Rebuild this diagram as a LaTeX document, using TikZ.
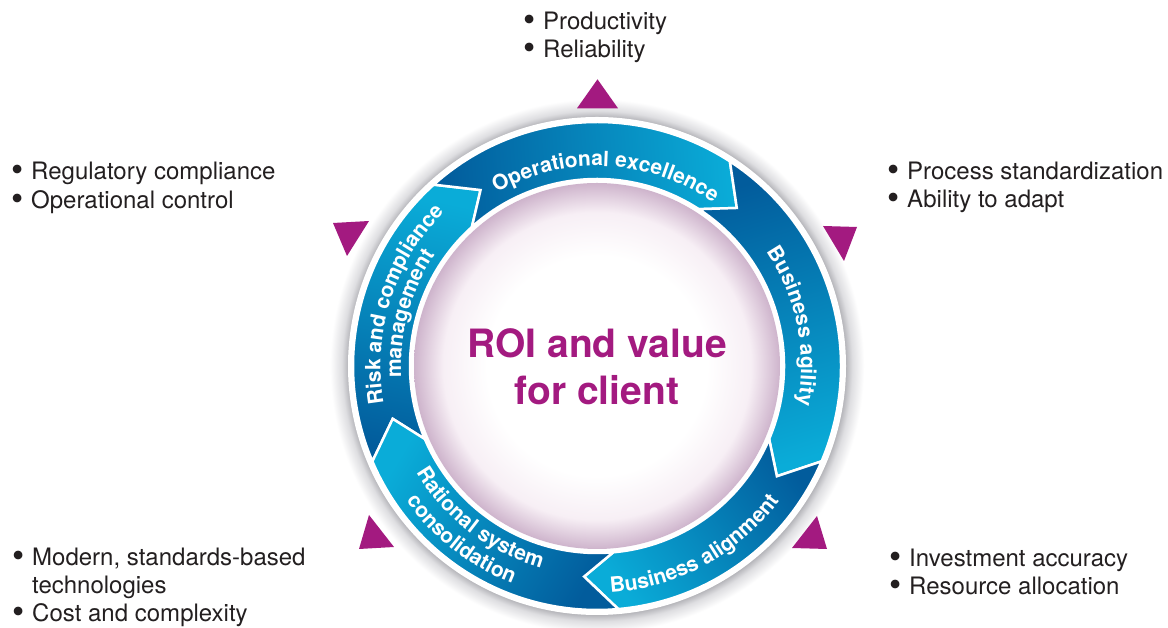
\documentclass[tikz,border=0pt]{standalone}
\usepackage{fontspec}
\usepackage{graphicx}
\setmainfont{TeX Gyre Heros}
\usetikzlibrary{decorations.text}
\definecolor{darkc}{RGB}{2,92,156}
\definecolor{lightc}{RGB}{10,172,216}
\definecolor{mag}{RGB}{163,26,128}
\definecolor{txt}{RGB}{35,31,32}
\definecolor{pinkA}{RGB}{247,239,245}
\definecolor{pinkB}{RGB}{206,180,204}
\definecolor{shadc}{RGB}{175,175,180}
\definecolor{shadm}{RGB}{222,222,225}
\pgfdeclareradialshading{innerglow}{\pgfpoint{0bp}{0bp}}{color(0bp)=(white); color(15bp)=(white); color(21bp)=(pinkA); color(25bp)=(pinkB); color(50bp)=(pinkB)}
\pgfdeclareradialshading{ringshadow}{\pgfpoint{0bp}{0bp}}{color(0bp)=(shadc); color(23.2bp)=(shadc); color(23.9bp)=(shadm); color(25bp)=(white); color(50bp)=(white)}
\newcommand\bitem{\llap{\raisebox{-2pt}{\scalebox{1.45}{\textbullet}}\hspace{7.5pt}}}
\newcommand\lblf{\fontsize{21}{21}\selectfont\bfseries}
\newcommand\Ro{244}
\newcommand\Ri{187}
\newcommand\Rt{211}
\newcommand\dl{8.5}
\newcommand\ringseg[2]{%
  \pgfmathsetmacro\shadang{(#1+#2)/2-180}%
  \path[top color=lightc, bottom color=darkc, shading angle=\shadang, draw=white, line width=2.5pt, line join=miter]
    (#1:\Ro) arc[start angle=#1, end angle=#2, radius=\Ro] -- (#2-\dl:\Rt) -- (#2:\Ri)
    arc[start angle=#2, end angle=#1, radius=\Ri] -- (#1-\dl:\Rt) -- cycle;}
\newcommand\cwlabel[3]{%
  \path[decorate, decoration={text along path, text align=center, text color=white, text={|\lblf|#3}}]
    (#1+45:#2) arc[start angle=#1+45, end angle=#1-45, radius=#2];}
\newcommand\ccwlabel[3]{%
  \path[decorate, decoration={text along path, text align=center, text color=white, text={|\lblf|#3}}]
    (#1-45:#2) arc[start angle=#1-45, end angle=#1+45, radius=#2];}
\tikzset{
  bl/.style={anchor=base west, inner sep=0pt, font=\fontsize{24}{28}\selectfont, text=txt},
  ctr/.style={anchor=base, inner sep=0pt, font=\fontsize{39}{46}\selectfont\bfseries, text=mag},
  tri/.style={fill=mag}
}
\begin{document}
\begin{tikzpicture}[x=1pt,y=1pt]
\useasboundingbox[fill=white] (0,0) rectangle (1168,628);
\begin{scope}[shift={(597,262)}]
  \shade[shading=ringshadow] (0,0) circle (267);
  \fill[white] (0,0) circle (249);
  \ringseg{203}{132}
  \ringseg{132}{57}
  \ringseg{57}{-23}
  \ringseg{-23}{-85}
  \ringseg{-85}{-157}
  \fill[white] (0,0) circle (186);
  \shade[shading=innerglow] (0,0) circle (183);
  \cwlabel{87.3}{200}{Operational excellence}
  \cwlabel{11.5}{204}{Business agility}
  \ccwlabel{-61.5}{227}{Business alignment}
  \ccwlabel{-127.5}{209.5}{Rational system}
  \ccwlabel{-128}{233.5}{consolidation}
  \cwlabel{162.3}{216.5}{Risk and compliance}
  \cwlabel{164.5}{196}{management}
\end{scope}
\node[ctr] (c1) at (597,270) {ROI and value};
\node[ctr] (c2) at (597,223) {for client};
% triangles
\fill[tri] (597.5,548.7) -- (577,519.7) -- (618,519.7) -- cycle;
\fill[tri] (333,405) -- (369,407) -- (347,372) -- cycle;
\fill[tri] (823,402) -- (857,401) -- (844,367) -- cycle;
\fill[tri] (817,112) -- (792,80) -- (827,79) -- cycle;
\fill[tri] (369,113) -- (359,79) -- (394,81) -- cycle;
% bullet texts
\node[bl] (t1) at (543,598) {\bitem Productivity};
\node[bl] (t2) at (543,570) {\bitem Reliability};
\node[bl] (l1) at (31,448) {\bitem Regulatory compliance};
\node[bl] (l2) at (31,419.5) {\bitem Operational control};
\node[bl] (r1) at (907,448) {\bitem Process standardization};
\node[bl] (r2) at (907,420) {\bitem Ability to adapt};
\node[bl] (bl1) at (32,62) {\bitem Modern, standards-based};
\node[bl] (bl2) at (32,34) {technologies};
\node[bl] (bl3) at (32,6.5) {\bitem Cost and complexity};
\node[bl] (br1) at (909,61.5) {\bitem Investment accuracy};
\node[bl] (br2) at (909,33) {\bitem Resource allocation};
\end{tikzpicture}
\end{document}
